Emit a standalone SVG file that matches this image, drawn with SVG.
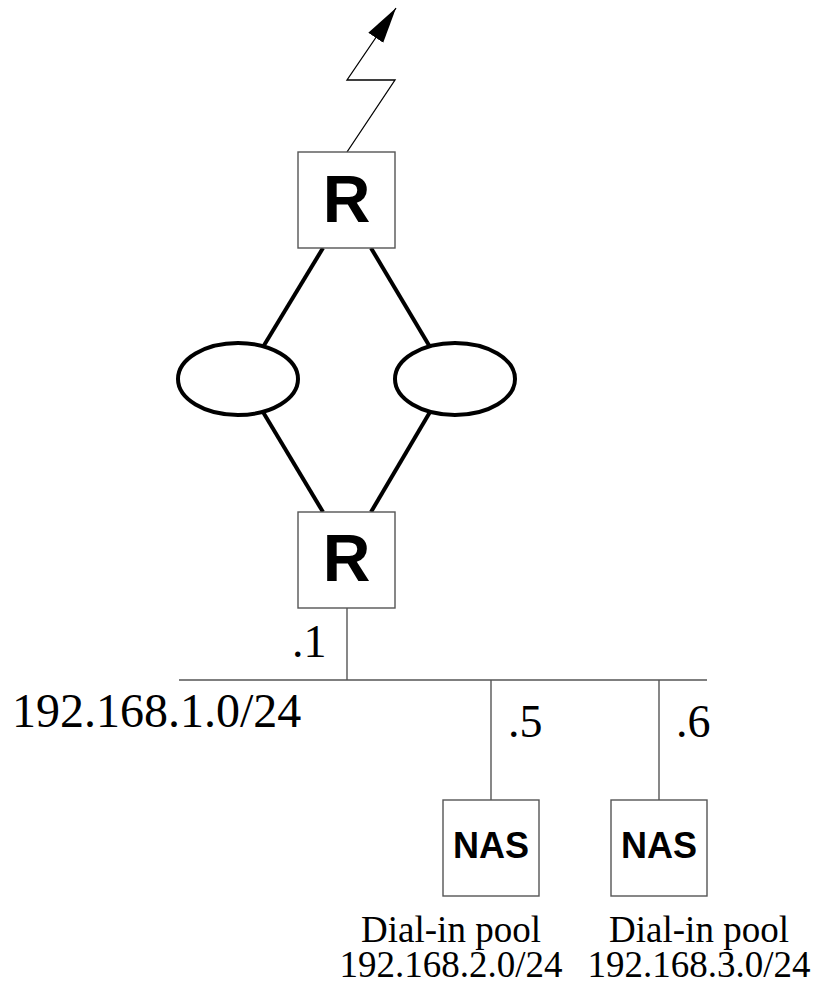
<svg xmlns="http://www.w3.org/2000/svg" width="815" height="986" viewBox="0 0 815 986">
<style>
.box{fill:#fff;stroke:#555;stroke-width:1.4}
.lbl{font-family:"Liberation Sans",Arial,sans-serif;font-weight:bold;text-anchor:middle;fill:#000}
.txt{font-family:"Liberation Serif","Times New Roman",serif;fill:#000}
.thick{stroke:#000;stroke-width:4;fill:none}
.thin{stroke:#555;stroke-width:1.4;fill:none}
.ell{fill:#fff;stroke:#000;stroke-width:4}
</style>
<defs>
<marker id="arr" markerUnits="userSpaceOnUse" markerWidth="40" markerHeight="20" refX="36" refY="9" orient="auto">
<path d="M0,0 L36,9 L0,18 z" fill="#000"/>
</marker>
</defs>
<rect width="815" height="986" fill="#fff"/>
<g id="connectors">
<path d="M347,152 L395,80 L347,80 L396,8" stroke="#000" stroke-width="1.3" fill="none" marker-end="url(#arr)"/>
<line class="thick" x1="323" y1="248" x2="263" y2="347"/>
<line class="thick" x1="371" y1="248" x2="430" y2="347"/>
<line class="thick" x1="263" y1="412" x2="323" y2="512"/>
<line class="thick" x1="430" y1="412" x2="371" y2="512"/>
<line class="thin" x1="347" y1="608" x2="347" y2="680"/>
<line class="thin" x1="179" y1="680" x2="707" y2="680"/>
<line class="thin" x1="491" y1="680" x2="491" y2="800"/>
<line class="thin" x1="659" y1="680" x2="659" y2="800"/>
</g>
<g id="router-top">
<rect class="box" x="298" y="152" width="97" height="96"/>
<text class="lbl" x="346.5" y="222" font-size="66">R</text>
</g>
<g id="cloud-left">
<ellipse class="ell" cx="238" cy="379" rx="60" ry="36"/>
</g>
<g id="cloud-right">
<ellipse class="ell" cx="455" cy="379" rx="60" ry="36"/>
</g>
<g id="router-bottom">
<rect class="box" x="298" y="512" width="97" height="96"/>
<text class="lbl" x="346.5" y="581" font-size="66">R</text>
</g>
<g id="nas-left">
<rect class="box" x="443" y="800" width="96" height="96"/>
<text class="lbl" x="491" y="858" font-size="36">NAS</text>
</g>
<g id="nas-right">
<rect class="box" x="611" y="800" width="96" height="96"/>
<text class="lbl" x="659" y="858" font-size="36">NAS</text>
</g>
<g id="labels">
<text class="txt" x="292" y="657" font-size="46">.1</text>
<text class="txt" x="12" y="727" font-size="48">192.168.1.0/24</text>
<text class="txt" x="508" y="737" font-size="46">.5</text>
<text class="txt" x="676" y="737" font-size="46">.6</text>
<text class="txt" x="451" y="942" font-size="37" text-anchor="middle">Dial-in pool</text>
<text class="txt" x="451" y="977" font-size="37" text-anchor="middle">192.168.2.0/24</text>
<text class="txt" x="699" y="942" font-size="37" text-anchor="middle">Dial-in pool</text>
<text class="txt" x="699" y="977" font-size="37" text-anchor="middle">192.168.3.0/24</text>
</g>
</svg>
